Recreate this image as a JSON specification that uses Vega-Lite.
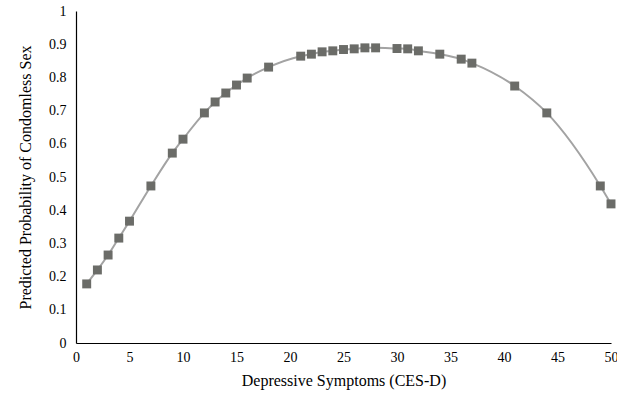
{
  "$schema": "https://vega.github.io/schema/vega-lite/v6.json",
  "autosize": "none",
  "width": 535,
  "height": 332,
  "padding": {"left": 76, "top": 11, "right": 6, "bottom": 51},
  "background": "white",
  "config": {"view": {"stroke": null}, "font": "Liberation Serif"},
  "data": {"values": [
    {"x": 1, "p": 0.178}, {"x": 2, "p": 0.22}, {"x": 3, "p": 0.265}, {"x": 4, "p": 0.316},
    {"x": 5, "p": 0.367}, {"x": 7, "p": 0.473}, {"x": 9, "p": 0.572}, {"x": 10, "p": 0.614},
    {"x": 12, "p": 0.693}, {"x": 13, "p": 0.726}, {"x": 14, "p": 0.753}, {"x": 15, "p": 0.777},
    {"x": 16, "p": 0.798}, {"x": 18, "p": 0.831}, {"x": 21, "p": 0.864}, {"x": 22, "p": 0.870},
    {"x": 23, "p": 0.877}, {"x": 24, "p": 0.880}, {"x": 25, "p": 0.884}, {"x": 26, "p": 0.886},
    {"x": 27, "p": 0.889}, {"x": 28, "p": 0.889}, {"x": 30, "p": 0.887}, {"x": 31, "p": 0.886},
    {"x": 32, "p": 0.880}, {"x": 34, "p": 0.870}, {"x": 36, "p": 0.855}, {"x": 37, "p": 0.843},
    {"x": 41, "p": 0.774}, {"x": 44, "p": 0.693}, {"x": 49, "p": 0.473}, {"x": 50, "p": 0.419}
  ]},
  "encoding": {
    "x": {"field": "x", "type": "quantitative", "scale": {"domain": [0, 50], "nice": false},
      "axis": {"title": "Depressive Symptoms (CES-D)", "values": [0,5,10,15,20,25,30,35,40,45,50],
        "grid": false, "ticks": false, "domainColor": "#000", "domainWidth": 1.2,
        "labelFont": "Liberation Serif", "labelFontSize": 14, "labelColor": "#000", "labelPadding": 7,
        "labelFlush": false, "titleFont": "Liberation Serif", "titleFontSize": 16, "titleFontWeight": "normal",
        "titleColor": "#000", "titlePadding": 8}},
    "y": {"field": "p", "type": "quantitative", "scale": {"domain": [0, 1], "nice": false},
      "axis": {"title": "Predicted Probability of Condomless Sex", "values": [0,0.1,0.2,0.3,0.4,0.5,0.6,0.7,0.8,0.9,1],
        "format": ".1~f", "grid": false, "ticks": false, "domainColor": "#000", "domainWidth": 1.2,
        "labelFont": "Liberation Serif", "labelFontSize": 14, "labelColor": "#000", "labelPadding": 10,
        "labelFlush": false, "titleFont": "Liberation Serif", "titleFontSize": 16, "titleFontWeight": "normal",
        "titleColor": "#000", "titlePadding": 15}}
  },
  "layer": [
    {"mark": {"type": "line", "interpolate": "monotone", "color": "#a3a3a3", "strokeWidth": 2}},
    {"mark": {"type": "point", "shape": "square", "filled": true, "size": 80, "color": "#6b6c68", "opacity": 1}}
  ]
}
